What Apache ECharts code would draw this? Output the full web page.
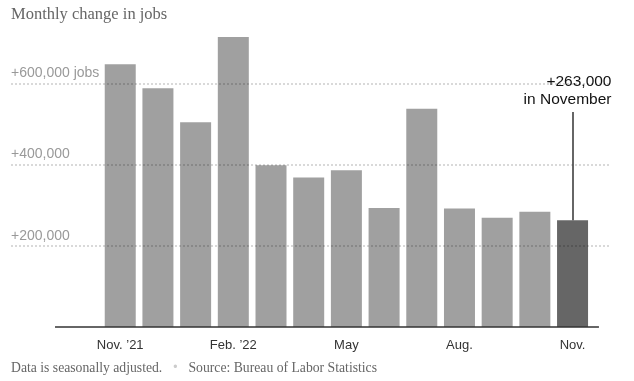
<!DOCTYPE html>
<html>
<head>
<meta charset="utf-8">
<script src="https://cdn.jsdelivr.net/npm/echarts@6/dist/echarts.min.js"></script>
<style>html,body{margin:0;padding:0;background:#fff}#c{width:634px;height:381px}</style>
</head>
<body>
<div id="c"></div>
<script>
const months = ['Nov. 2021','Dec. 2021','Jan. 2022','Feb. 2022','Mar. 2022','Apr. 2022','May 2022','Jun. 2022','Jul. 2022','Aug. 2022','Sep. 2022','Oct. 2022','Nov. 2022'];
const jobs = [647000, 588000, 504000, 714000, 398000, 368000, 386000, 293000, 537000, 292000, 269000, 284000, 263000];
const xTickIndex = [0, 3, 6, 9, 12];
const xTickLabels = ['Nov. \u201921', 'Feb. \u201922', 'May', 'Aug.', 'Nov.'];
const yTicks = [200000, 400000, 600000];
const yTickLabels = ['+200,000', '+400,000', '+600,000 jobs'];
const annotationTop = 529000;

const last = jobs.length - 1;
const sans = '"Liberation Sans", Arial, Helvetica, sans-serif';
const serif = '"Liberation Serif", "Times New Roman", serif';

const chart = echarts.init(document.getElementById('c'), null, {renderer: 'canvas'});
chart.setOption({
  animation: false,
  backgroundColor: '#fff',
  title: [
    {text: 'Monthly change in jobs', left: 11, top: 6, padding: 0,
     textStyle: {fontFamily: serif, fontSize: 16.5, fontWeight: 'normal', color: '#666'}},
    {text: '{a|Data is seasonally adjusted.}{d|\u2022}{a|Source: Bureau of Labor Statistics}', left: 11, top: 361, padding: 0,
     textStyle: {fontWeight: 'normal', rich: {
       a: {fontFamily: serif, fontSize: 13.7, fontWeight: 'normal', color: '#666'},
       d: {fontFamily: sans, fontSize: 12, fontWeight: 'normal', color: '#ccc', padding: [0, 11, 0, 11]}
     }}}
  ],
  grid: {left: 11, right: 23, top: 2, bottom: 54},
  xAxis: {
    type: 'value', min: -2.898, max: 13.02,
    axisLine: {show: false}, axisTick: {show: false}, splitLine: {show: false},
    axisLabel: {
      customValues: xTickIndex,
      formatter: v => xTickLabels[xTickIndex.indexOf(v)] || '',
      fontFamily: sans, fontSize: 13, color: '#333', margin: 12
    }
  },
  yAxis: {
    type: 'value', min: 0, max: 800000,
    axisLine: {show: false}, axisTick: {show: false}, splitLine: {show: false},
    axisLabel: {
      inside: true, margin: 0, verticalAlign: 'bottom', padding: [0, 0, 3, 0],
      customValues: yTicks,
      formatter: v => yTickLabels[yTicks.indexOf(v)] || '',
      fontFamily: sans, fontSize: 14, color: '#999'
    }
  },
  series: [{
    type: 'bar',
    barWidth: 31,
    data: jobs.map((v, i) => ({
      value: [i, v], name: months[i],
      itemStyle: {color: i === last ? '#666666' : '#a0a0a0'}
    })),
    markLine: {
      silent: true, symbol: 'none', animation: false,
      label: {show: false},
      data: [
        ...yTicks.map(v => ({yAxis: v, lineStyle: {type: [2, 2], color: 'rgba(0,0,0,0.2)', width: 1.5}})),
        [{coord: [-1.73, 0], lineStyle: {type: 'solid', color: '#333', width: 1.5}}, {coord: [12.7, 0]}],
        [{coord: [last, jobs[last]], lineStyle: {type: 'solid', color: '#333', width: 1.5},
          label: {
            show: true, position: 'end', distance: 3, offset: [-5, 0],
            formatter: '{a|+' + jobs[last].toLocaleString('en-US') + '}\n{a|in November}',
            rich: {a: {fontFamily: sans, fontSize: 15.5, color: '#121212', align: 'right', lineHeight: 18.5}}
          }},
         {coord: [last, annotationTop]}]
      ]
    }
  }]
});
</script>
</body>
</html>
